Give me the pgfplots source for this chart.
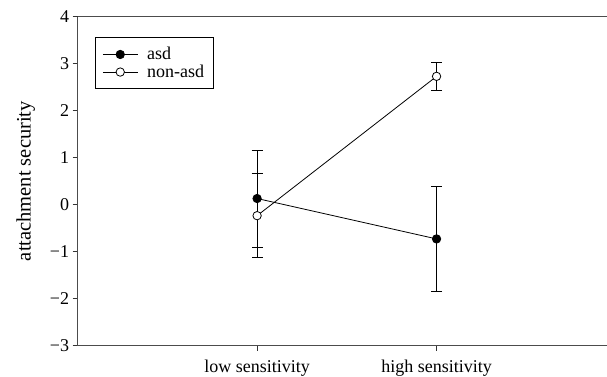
\documentclass[border=0pt]{standalone}
\usepackage{pgfplots}
\pgfplotsset{compat=1.18}
\usepackage{fontspec}
\setmainfont{Liberation Serif}
\begin{document}
\begin{tikzpicture}
\begin{axis}[
  scale only axis, width=538.5pt, height=329pt,
  xmin=0, xmax=3, ymin=-3, ymax=4,
  axis x line*=box, axis y line*=left,
  xtick pos=lower, ytick pos=left,
  tick align=outside, major tick length=5pt,
  axis line style={black!70, line width=1.1pt},
  tick style={black!80, line width=0.8pt},
  xtick={1,2}, xticklabels={low sensitivity, high sensitivity},
  xticklabel style={inner sep=0pt, anchor=north, yshift=-9.5pt},
  ytick={-3,-2,...,4}, yticklabels={−3,−2,−1,0,1,2,3,4},
  /pgf/number format/assume math mode=true,
  ticklabel style={font=\fontsize{18}{20}\selectfont},
  ylabel={attachment security},
  ylabel style={font=\fontsize{20.5}{22}\selectfont, yshift=8pt},
  legend style={at={(rel axis cs:0.0321,0.9374)}, anchor=north west, draw=black, line width=0.8pt,
    font=\fontsize{18}{20}\selectfont, row sep=0pt, inner xsep=7pt, inner ysep=8pt,
    nodes={inner xsep=2pt, inner ysep=1.8pt},
    /tikz/every odd column/.append style={column sep=7pt}},
  legend cell align=left,
  legend image code/.code={\draw[mark repeat=2,mark phase=2,#1] plot coordinates {(0pt,0pt) (17.5pt,0pt) (35pt,0pt)};},
]
\addplot[black, line width=0.8pt, mark=*, mark size=4.2pt, mark options={solid, fill=black},
  error bars/.cd, y dir=both, y explicit, error bar style={line width=0.8pt, black},
  error mark options={rotate=90, mark size=5.5pt, line width=0.8pt, black}]
  coordinates {(1,0.13) +- (0,1.03) (2,-0.73) +- (0,1.11)};
\addlegendentry{asd}
\addplot[black, line width=0.8pt, mark=*, mark size=4.2pt, mark options={solid, fill=white, draw=black},
  error bars/.cd, y dir=both, y explicit, error bar style={line width=0.8pt, black},
  error mark options={rotate=90, mark size=5.5pt, line width=0.8pt, black}]
  coordinates {(1,-0.235) +- (0,0.89) (2,2.73) +- (0,0.30)};
\addlegendentry{non-asd}
\coordinate (bl) at (rel axis cs:0,0);
\coordinate (tr) at (rel axis cs:1,1);
\end{axis}
\pgfresetboundingbox
\path[use as bounding box] ([xshift=-77.7pt,yshift=-31.3pt]bl) rectangle ([xshift=-9pt,yshift=16.7pt]tr);
\end{tikzpicture}
\end{document}
